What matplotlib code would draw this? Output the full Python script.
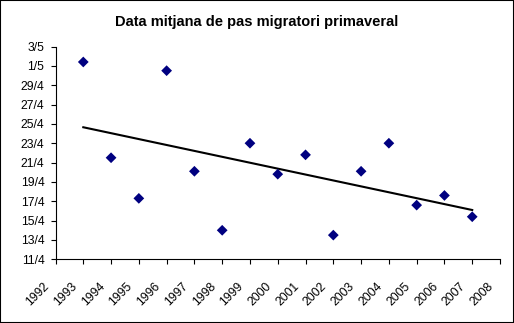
import matplotlib
matplotlib.use("Agg")
import matplotlib.pyplot as plt
import matplotlib.dates as mdates
import matplotlib.transforms as mtransforms
from matplotlib.patches import Rectangle
from matplotlib.ticker import FuncFormatter, MultipleLocator
import numpy as np
import datetime as dt

plt.rcParams['font.family'] = ['Liberation Sans', 'DejaVu Sans']

# Average spring passage date per year, as days counted from 31 March
anys = [1993, 1994, 1995, 1996, 1997, 1998, 1999, 2000,
        2001, 2002, 2003, 2004, 2005, 2006, 2007]
dies = [31.4, 21.5, 17.3, 30.5, 20.1, 14.0, 23.0, 19.8,
        21.8, 13.5, 20.1, 23.0, 16.6, 17.6, 15.4]
titol = "Data mitjana de pas migratori primaveral"

base = mdates.date2num(dt.datetime(2001, 3, 31))
y = base + np.array(dies)
x = np.array(anys, dtype=float)

W, H = 514, 323
fig = plt.figure(figsize=(W / 100, H / 100), dpi=100)
ax = fig.add_axes([55.5 / W, 1 - 259.3 / H, (500 - 55.5) / W, (259.3 - 46.5) / H])

ax.scatter(x, y, marker='D', s=30, color='#000080', edgecolors='none', zorder=3)

# linear trend
coef = np.polyfit(x, y, 1)
xt = np.array([x.min(), x.max()])
ax.plot(xt, np.polyval(coef, xt), color='black', lw=1.5, zorder=2)

ax.set_xlim(1992, 2008)
ax.set_xticks(np.arange(1992, 2009, 1))
ax.set_ylim(mdates.date2num(dt.datetime(2001, 4, 11)),
            mdates.date2num(dt.datetime(2001, 5, 3)))
ax.yaxis.set_major_locator(MultipleLocator(2, offset=mdates.date2num(dt.datetime(2001, 4, 11)) % 2))


def fmt_data(v, pos):
    d = mdates.num2date(v)
    return f"{d.day}/{d.month}"


ax.yaxis.set_major_formatter(FuncFormatter(fmt_data))

for s in ['top', 'right']:
    ax.spines[s].set_visible(False)
for s in ['left', 'bottom']:
    ax.spines[s].set_linewidth(0.8)
    ax.spines[s].set_color('black')

ax.tick_params(axis='both', direction='out', length=3.5, width=0.8, color='black',
               labelsize=8.7, labelcolor='black')
ax.tick_params(axis='y', pad=4.5)
ax.tick_params(axis='x', pad=11.5)

off = mtransforms.ScaledTranslation(-4 / 100, 0, fig.dpi_scale_trans)
for lab in ax.get_xticklabels():
    lab.set_rotation(45)
    lab.set_ha('right')
    lab.set_va('top')
    lab.set_transform(lab.get_transform() + off)

fig.text(0.5 * (116 + 398) / W, 1 - 22 / H, titol, ha='center', va='center',
         fontsize=10.5, fontweight='bold')

fig.patches.append(Rectangle((0, 0), 1, 1, transform=fig.transFigure, fill=False,
                             edgecolor='black', lw=1.5))

fig.savefig('out.png', dpi=100)
